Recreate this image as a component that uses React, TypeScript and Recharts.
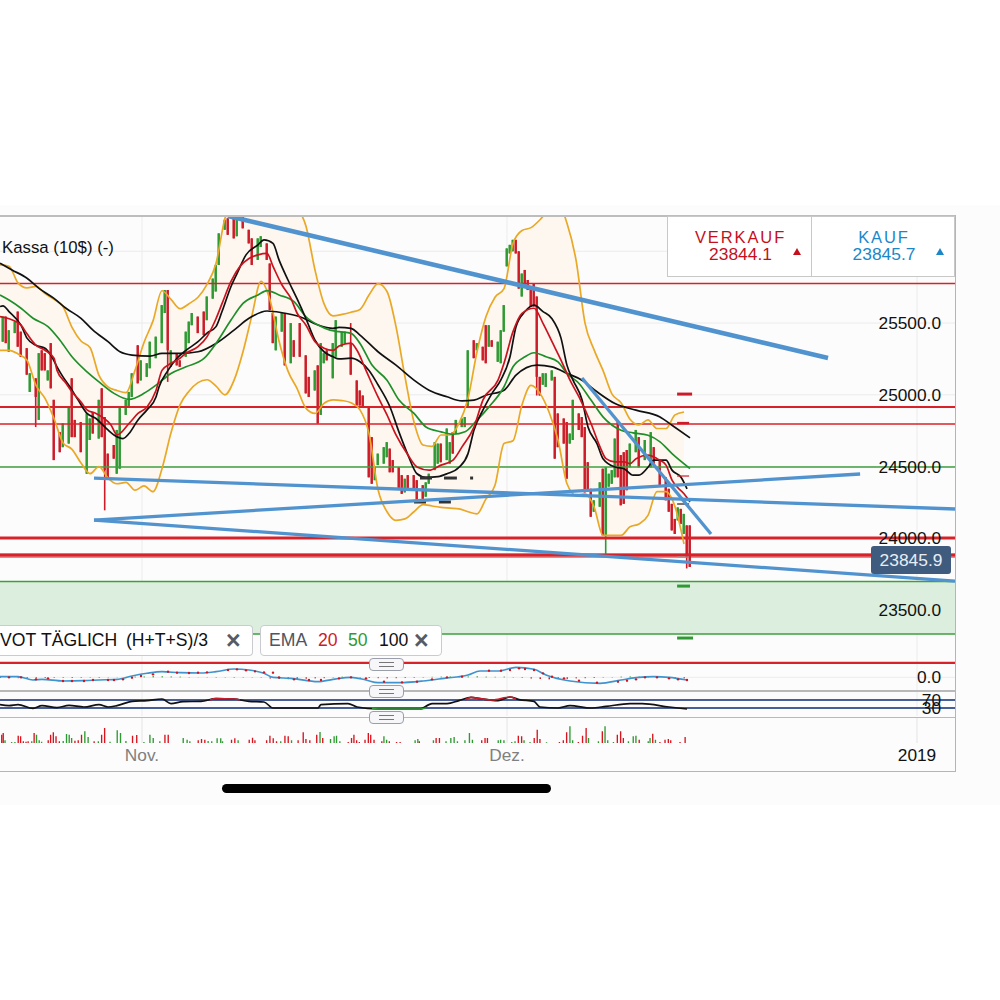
import {
  Area,
  Bar,
  CartesianGrid,
  Cell,
  ComposedChart,
  Line,
  ReferenceArea,
  ReferenceLine,
  XAxis,
  YAxis,
} from 'recharts';

const FONT = '"Liberation Sans", Arial, sans-serif';
const RED = '#cb1c28';
const GREEN = '#2f9a33';
const ORANGE = '#e9a825';
const BLUE = '#5193cf';

// candle numbers run along the x axis, the last visible slot is 318.33
const xDomain = [0, 318.33];
const monthTicks = [47.33, 169, 305.67];
const monthLabels = ['Nov.', 'Dez.', '2019'];
const priceTicks = [23500, 24000, 24500, 25000, 25500];
const priceGrid = [23500, 24000, 24500, 25000, 25500, 26000];

const candleNo = [
  1, 2, 3, 5, 6, 7, 9, 10, 12, 13, 14, 15, 16, 17, 18, 20, 21, 23, 24, 25, 27, 29, 30, 31, 33, 34, 35, 36, 38, 39,
  40, 42, 43, 44, 46, 47, 49, 50, 52, 54, 55, 56, 57, 59, 60, 62, 63, 64, 66, 68, 69, 71, 72, 73, 75, 76, 78, 79, 81, 83,
  84, 86, 87, 89, 90, 91, 92, 94, 95, 97, 98, 100, 102, 103, 105, 106, 107, 108, 109, 111, 112, 114, 115, 117, 119, 120, 121, 123, 124, 125,
  126, 128, 129, 130, 131, 133, 134, 135, 136, 138, 139, 141, 142, 143, 145, 146, 147, 149, 150, 151, 152, 154, 155, 156, 158, 159, 161, 162, 163, 164,
  166, 167, 168, 169, 170, 171, 172, 173, 174, 175, 176, 177, 178, 179, 180, 181, 182, 184, 185, 186, 188, 189, 190, 191, 193, 194, 195, 196, 197, 198,
  200, 201, 202, 203, 204, 205, 206, 207, 208, 209, 210, 212, 213, 215, 217, 218, 220, 222, 223, 224, 225, 226, 227, 228, 229, 230,
];
const bodyHigh = [
  25545, 25545, 25450, 25510, 25580, 25440, 25325, 25150, 25115, 25290, 25310, 25290, 25170, 25360, 24965, 24740, 24800, 24915, 25115, 24825, 24810, 24870, 24835, 24880, 24965, 25045, 24845, 24590, 24650, 24755,
  24915, 24965, 25020, 25150, 25345, 25240, 25220, 25370, 25405, 25625, 25730, 25730, 25310, 25290, 25240, 25440, 25510, 25570, 25545, 25580, 25685, 25810, 25905, 26125, 26220, 26230, 26245, 26245, 26245, 26150,
  26090, 26090, 26105, 26055, 25915, 25570, 25545, 25570, 25570, 25500, 25380, 25500, 25275, 25125, 25170, 25205, 25360, 25290, 25310, 25360, 25520, 25440, 25440, 25360, 25100, 25030, 24995, 24915, 24705, 24495,
  24590, 24635, 24670, 24625, 24545, 24495, 24440, 24415, 24440, 24440, 24405, 24370, 24390, 24450, 24670, 24660, 24660, 24765, 24670, 24740, 24825, 24835, 24845, 25310, 25380, 25360, 25335, 25485, 25485, 25380,
  25370, 25450, 25625, 26020, 26045, 26080, 26080, 26000, 25845, 25870, 25800, 25755, 25775, 25685, 25125, 25150, 25150, 25170, 25125, 24870, 24835, 24810, 24730, 24965, 24870, 24845, 24775, 24530, 24345, 24265,
  24390, 24485, 24495, 24450, 24475, 24695, 24810, 24580, 24600, 24615, 24660, 24755, 24705, 24685, 24740, 24635, 24545, 24425, 24345, 24240, 24135, 24215, 24205, 24170, 24090, 24090,
];
const bodyLow = [
  25370, 25360, 25300, 25430, 25335, 25265, 25140, 25020, 24985, 24825, 25170, 25170, 25100, 25045, 24545, 24600, 24635, 24660, 24705, 24705, 24600, 24450, 24685, 24730, 24695, 24705, 24475, 24425, 24555, 24450,
  24485, 24860, 24915, 24985, 25080, 25100, 25125, 25185, 25255, 25360, 25570, 25310, 25195, 25205, 25195, 25265, 25360, 25485, 25430, 25415, 25520, 25670, 25720, 25905, 26150, 26115, 26090, 26105, 26160, 26055,
  25905, 25940, 26030, 25940, 25590, 25360, 25310, 25440, 25205, 25220, 25265, 25265, 25010, 24985, 25030, 24800, 24860, 25220, 25240, 25115, 25265, 25335, 25360, 25140, 24925, 24925, 24915, 24425, 24380, 24405,
  24510, 24520, 24565, 24460, 24460, 24345, 24310, 24320, 24335, 24345, 24265, 24275, 24290, 24380, 24475, 24520, 24530, 24545, 24520, 24590, 24730, 24775, 24775, 24915, 25255, 25310, 25240, 25220, 25335, 25335,
  25230, 25220, 25440, 25895, 25985, 26000, 25985, 25740, 25685, 25765, 25730, 25615, 25615, 25125, 24995, 25070, 25055, 25100, 24555, 24635, 24660, 24415, 24660, 24685, 24755, 24705, 24320, 24335, 24150, 24185,
  24220, 24020, 24020, 24360, 24380, 24425, 24425, 24230, 24240, 24335, 24495, 24600, 24495, 24545, 24495, 24520, 24370, 24265, 24185, 24055, 24030, 24125, 24100, 24030, 23870, 23800,
];
const candleSide = (
  'GRGGRRRGRGRRGRRRGGRRRGGRGRRRRG' +
  'GGGGRGGGGGGRGRRGGGRRGGGGGRRGRR' +
  'RGGRRRGGRGRRRRGRGGRGGGGRRRRRRG' +
  'GGGRRRRGRRRRGGGGRGGRGGGGRGRRGR' +
  'GGGGGGRRGRRRRRRGGGRRRRGGRRRRRG' +
  'GRGGGGRRRRGGRGGRRRRRRGRGRR'
).split('');

const wickNo = [12, 35, 56, 117, 179, 202, 229];
const wickHigh = [25115, 24845, 25730, 25500, 25685, 24495, 24090];
const wickLow = [24775, 24195, 25090, 25140, 24995, 23890, 23790];

const bandNo = [
  0, 3, 6, 9, 12, 15, 18, 21, 24, 27, 30, 33, 36, 39, 42, 45, 48, 51, 54, 57, 60, 63, 66, 69, 72, 75, 78, 81, 84, 87,
  90, 93, 96, 99, 102, 105, 108, 111, 114, 117, 120, 123, 126, 129, 132, 135, 138, 141, 144, 147, 150, 153, 156, 159, 162, 165, 168, 171, 174, 177,
  180, 183, 186, 189, 192, 195, 198, 201, 204, 207, 210, 213, 216, 219, 222, 225, 228,
];
const bandUpper = [
  25905, 25895, 25780, 25745, 25755, 25705, 25665, 25615, 25470, 25375, 25330, 25135, 25055, 25030, 25015, 25170, 25365, 25515, 25725, 25665,
  25600, 25635, 25680, 25770, 25915, 26230, 26335, 26405, 26450, 26475, 26485, 26475, 26405, 26310, 26175, 25870, 25635, 25550, 25560, 25575,
  25595, 25695, 25775, 25720, 25475, 25125, 24810, 24650, 24640, 24720, 24720, 24800, 24975, 25300, 25545, 25680, 25740, 26055, 26145, 26165,
  26220, 26290, 26335, 26195, 25940, 25500, 25315, 25170, 25005, 24945, 24830, 24790, 24825, 24765, 24765, 24860, 24880,
];
const bandLower = [
  25310, 25310, 25285, 25240, 25065, 24975, 24835, 24665, 24620, 24525, 24450, 24500, 24420, 24380, 24390, 24335, 24365, 24325, 24485, 24735,
  24930, 25025, 25085, 25105, 25060, 25000, 25100, 25300, 25555, 25790, 25660, 25375, 25165, 25045, 24905, 24870, 24940, 24965, 24960, 24945,
  24895, 24730, 24340, 24185, 24125, 24135, 24185, 24235, 24225, 24215, 24210, 24205, 24185, 24170, 24275, 24370, 24660, 24680, 24930, 25065,
  25010, 24880, 24685, 24380, 24300, 24310, 24220, 24020, 24020, 24020, 24080, 24100, 24160, 24325, 24325, 24220, 23960,
];

const ema20No = [
  0, 3, 7, 9, 12, 15, 18, 19, 22, 24, 27, 29, 32, 34, 37, 39, 43, 46, 49, 52, 54, 57, 60, 62, 66, 69, 72, 74, 77, 80,
  83, 86, 89, 91, 94, 97, 99, 102, 105, 108, 111, 113, 117, 119, 122, 126, 129, 132, 136, 139, 143, 147, 151, 154, 158, 161, 166, 168, 171, 174,
  178, 181, 184, 187, 190, 193, 197, 200, 202, 205, 208, 210, 212, 216, 219, 222, 224, 228, 230,
];
const ema20 = [
  25545, 25530, 25485, 25425, 25345, 25310, 25255, 25170, 25080, 25020, 24950, 24895, 24870, 24845, 24790, 24720, 24800, 24870, 24915, 25030,
  25170, 25220, 25255, 25290, 25335, 25405, 25530, 25635, 25790, 25895, 25950, 25975, 25985, 25895, 25765, 25670, 25570, 25485, 25370, 25325,
  25310, 25340, 25360, 25310, 25170, 24985, 24860, 24720, 24580, 24497, 24475, 24510, 24545, 24637, 24775, 24965, 25102, 25220, 25440, 25568,
  25603, 25498, 25370, 25242, 25102, 24985, 24800, 24637, 24555, 24532, 24532, 24520, 24555, 24580, 24555, 24510, 24405, 24310, 24253,
];
const emaFastNo = [
  0, 1, 3, 7, 9, 12, 15, 17, 19, 21, 23, 26, 29, 32, 35, 38, 41, 43, 46, 49, 52, 53, 56, 59, 62, 66, 69, 72, 74, 77,
  79, 82, 86, 88, 91, 93, 96, 99, 102, 105, 108, 111, 113, 117, 120, 123, 126, 130, 133, 136, 139, 142, 146, 149, 153, 156, 158, 161, 164, 167,
  170, 172, 175, 178, 181, 184, 187, 189, 191, 194, 196, 199, 201, 205, 208, 211, 213, 216, 218, 222, 224, 227, 229,
];
const emaFast = [
  25615, 25620, 25580, 25485, 25395, 25345, 25325, 25275, 25195, 25125, 25065, 24965, 24870, 24835, 24775, 24720, 24695, 24730, 24825, 24895,
  24985, 25055, 25170, 25255, 25310, 25370, 25430, 25475, 25580, 25755, 25845, 25975, 26045, 26080, 26055, 25940, 25800, 25670, 25530, 25380,
  25300, 25265, 25250, 25255, 25230, 25170, 25070, 24915, 24740, 24580, 24450, 24425, 24430, 24450, 24495, 24590, 24755, 24895, 25010, 25105,
  25265, 25475, 25580, 25625, 25580, 25530, 25395, 25205, 25102, 24965, 24775, 24660, 24555, 24497, 24485, 24440, 24440, 24495, 24545, 24545,
  24475, 24425, 24345,
];
const ema50No = [
  0, 3, 7, 11, 16, 20, 24, 29, 33, 38, 43, 48, 52, 57, 62, 68, 72, 77, 81, 86, 89, 93, 98, 102, 106, 110, 113, 117, 120, 124,
  129, 133, 138, 142, 147, 151, 155, 159, 163, 168, 171, 175, 178, 182, 186, 189, 193, 197, 201, 207, 211, 216, 220, 224, 230,
];
const ema50 = [
  25695, 25660, 25603, 25533, 25475, 25380, 25265, 25160, 25090, 25010, 24968, 25010, 25067, 25149, 25195, 25253, 25358, 25521, 25637, 25696,
  25726, 25696, 25649, 25544, 25486, 25451, 25440, 25428, 25358, 25207, 25102, 24963, 24870, 24776, 24742, 24725, 24742, 24823, 24916, 25056,
  25195, 25265, 25293, 25265, 25230, 25149, 25079, 24963, 24846, 24753, 24735, 24718, 24672, 24590, 24486,
];
const ema100No = [
  0, 4, 9, 13, 18, 22, 27, 31, 36, 40, 44, 50, 54, 60, 66, 72, 78, 83, 89, 94, 100, 106, 111, 113, 117, 120, 126, 132, 138, 143,
  149, 154, 158, 162, 168, 172, 179, 184, 189, 194, 199, 205, 212, 220, 224, 230,
];
const ema100 = [
  25917, 25870, 25812, 25742, 25672, 25603, 25533, 25451, 25370, 25300, 25277, 25270, 25288, 25288, 25300, 25358, 25451, 25533, 25584, 25572,
  25544, 25486, 25463, 25470, 25463, 25416, 25300, 25207, 25102, 25032, 24986, 24958, 24963, 24997, 25032, 25137, 25207, 25195, 25149, 25102,
  25021, 24939, 24893, 24846, 24788, 24700,
];

const levelPrice = [25775, 24915, 24796, 24496, 23699, 23333, 24002, 23883, 23131];
const levelSide = ['R', 'R', 'R', 'G', 'G', 'G', 'R', 'R', 'R'];
const levelWeight = [1.5, 1.8, 1.5, 1.5, 1.5, 1.5, 2.8, 2.6, 2.6];

const trendFromNo = [76, 31.33, 31.33, 31.33, 194];
const trendFromPrice = [26246, 24420, 24127, 24127, 25117];
const trendToNo = [276, 318.33, 286.7, 318.33, 237];
const trendToPrice = [25256, 24204, 24448, 23702, 24030];
const trendWeight = [4.6, 3.3, 3.3, 3.3, 3.3];

const pivotFrom = [225.7, 225.7, 225.7, 225.7, 225.7, 225.7, 225.7, 140, 148, 156.7, 138, 146.3];
const pivotTo = [230.7, 229.7, 229.7, 229.7, 229.7, 230, 231, 144, 152.3, 157.7, 142, 150.3];
const pivotPrice = [25005, 24803, 24434, 24239, 23869, 23667, 23305, 24420, 24420, 24420, 24253, 24253];
const pivotColor = [RED, RED, RED, '#222', '#999', GREEN, GREEN, '#333', '#333', '#333', '#333', '#333'];
const pivotWeight = [3, 2.4, 1.2, 1.2, 1.2, 3, 3, 3, 3, 3, 3, 3];

const macdNo = [
  0, 6, 11, 14, 21, 28, 33, 39, 44, 49, 54, 60, 67, 72, 78, 83, 88, 91, 97, 106, 111, 117, 122, 126, 133, 141, 148, 156, 160, 166,
  172, 178, 182, 190, 200, 207, 212, 218, 223, 229,
];
const macdLine = [
  8, 8, -32, -24, -44, -40, -32, -24, 16, 48, 68, 56, 52, 68, 100, 88, 48, 0, -12, -52, -24, 0, -32, -64, -64, -44, -12, 28, 76, 76,
  120, 96, 28, -44, -72, -32, -4, 8, 0, -32,
];
const signalNo = [
  3, 7, 12, 16, 21, 24, 28, 31, 36, 38, 41, 44, 47, 51, 56, 59, 63, 66, 69, 76, 79, 82, 85, 88, 91, 93, 98, 103, 107, 113,
  117, 122, 128, 134, 139, 144, 149, 154, 163, 167, 170, 173, 175, 178, 181, 184, 188, 193, 199, 206, 209, 212, 215, 219, 223, 226, 229,
];
const signalLine = [
  0, 0, -24, -12, -44, -44, -44, -32, -32, -32, -24, -4, 16, 36, 68, 56, 52, 56, 60, 88, 96, 84, 72, 60, 56, 0, -24, -32, -32, -12,
  0, -12, -52, -60, -52, -24, 0, 8, 80, 80, 88, 108, 100, 88, 48, 8, -12, -40, -64, -52, -40, -24, 0, 0, -12, -24, -32,
];
const histNo = bandNo;
const histValue = [
  -8, -6, -10, -8, -12, -8, -6, -4, -8, -6, -4, -6, -3, -2, 6, 8, 10, 14, 12, 10, 8, 4, 2, -3, -4, -3, -5, -4, -3, -4,
  -14, -20, -22, -18, -16, -12, -10, 4, 8, 6, -4, -8, -10, -12, -10, -8, -6, -4, 6, 8, 10, 8, 10, 12, 8, 6, 8, 4, -6, -14,
  -20, -24, -20, -18, -12, -10, -8, -4, 4, 8, 10, 8, 6, -4, -8, -10, -12,
];

const rsiNo = [
  0, 3, 6, 11, 14, 19, 23, 28, 33, 36, 39, 44, 49, 54, 57, 61, 67, 72, 78, 83, 88, 91, 100, 106, 107, 116, 119, 126, 133, 140,
  144, 149, 153, 157, 160, 166, 170, 173, 178, 180, 186, 190, 197, 202, 210, 214, 223, 229,
];
const rsiLine = [
  47, 42, 47, 28, 42, 32, 43, 35, 47, 35, 42, 63, 67, 75, 52, 62, 63, 77, 75, 63, 60, 30, 30, 30, 47, 52, 35, 25, 25, 25,
  52, 52, 67, 83, 77, 67, 85, 72, 63, 35, 30, 42, 30, 38, 52, 52, 35, 25,
];
const rsiHighNo = [70, 72, 78, 80, 81, 155, 157, 160, 164, 170, 172];
const rsiHigh = [70, 77, 75, 70, null, 70, 83, 77, 70, 85, 74];
const rsiLowNo = [124, 126, 133, 140, 142];
const rsiLow = [30, 25, 25, 25, 30];

const volumeNo = [
  0.6, 1.1, 1.7, 3.9, 5, 6.1, 6.9, 7.8, 8.7, 9.4, 10.6, 11.4, 12.2, 13.1, 13.9, 16.1, 16.9, 17.8, 18.7, 19.8, 21.1, 22.2, 23.1, 23.9, 25, 26.1, 27.2, 28.3, 29.4, 31.4,
  32.8, 33.9, 34.9, 36.7, 39.1, 40.2, 42, 44.2, 45.6, 48, 50, 51.1, 53.3, 55, 56.1, 61.1, 62.4, 63.3, 66.1, 67.2, 68.3, 69.4, 70.6, 72.4, 73.6, 74.2, 77.2, 78.3, 79.4, 83.1,
  84.2, 85, 88.9, 90, 91.1, 92.2, 93.6, 95, 96.1, 97.2, 99.4, 101.1, 102, 103.3, 105.6, 106.7, 107.6, 110.2, 111.4, 112.2, 113.3, 116.1, 117.2, 118, 118.9, 119.8, 121.7, 122.8, 123.6, 124.7,
  127.3, 128, 128.9, 129.8, 132.2, 133.4, 138.4, 139.3, 139.8, 144.5, 145.4, 146.5, 148.7, 150.3, 151.4, 152.5, 155, 156.5, 157.5, 160.6, 161.7, 162.5, 166.1, 166.9, 168, 170.6, 171.7, 172.8, 173.9, 174.7,
  176.7, 178.1, 179.1, 180, 182.2, 186.5, 187.8, 188.9, 190, 190.9, 192.8, 194.2, 195.4, 196.2, 199.5, 200.8, 201.7, 202.6, 204.5, 205.8, 206.9, 207.8, 209.5, 211.1, 212, 213.1, 216.1, 216.7, 217.6, 218.5,
  220, 221.7, 222.8, 223.6, 226.7, 228.4,
];
const volumeValue = [
  250, 300, 80, 30, 30, 220, 200, 50, 40, 50, 50, 300, 250, 80, 40, 80, 250, 320, 200, 50, 60, 270, 250, 150, 70, 80, 250, 350, 180, 50,
  50, 250, 450, 40, 380, 300, 60, 220, 240, 30, 250, 150, 50, 250, 250, 150, 100, 50, 80, 120, 100, 60, 50, 140, 140, 50, 100, 140, 80, 100,
  160, 80, 80, 220, 140, 50, 50, 220, 200, 80, 80, 320, 120, 80, 250, 330, 150, 120, 200, 220, 50, 30, 150, 250, 80, 30, 100, 300, 250, 100,
  50, 200, 100, 50, 30, 30, 80, 120, 50, 80, 150, 150, 50, 150, 180, 50, 80, 300, 100, 80, 150, 150, 80, 100, 80, 30, 50, 220, 200, 80,
  30, 150, 400, 120, 20, 30, 80, 320, 500, 80, 30, 220, 450, 150, 50, 350, 500, 80, 30, 250, 350, 150, 50, 200, 220, 100, 50, 150, 280, 100,
  30, 100, 120, 80, 30, 180,
];
const volumeSide = (
  'RRGGGRRRRRGRGGGRRRRRGGGGRRRGGR' +
  'GRRGGGGRRGGGGRRGGGRRRGGGGGRRGR' +
  'RRRRRRGRRGRRRRRGRGGGGRRRRRRRRR' +
  'RGGRRRGGRGRRGGGGGGGRRRGGGGGRRG' +
  'GRRRGRRRGGRRRGGRGGGRRRGGGRGGRG' +
  'RRRRRR'
).split('');

const wickTop = new Map(wickNo.map((no, i) => [no, wickHigh[i]]));
const wickBottom = new Map(wickNo.map((no, i) => [no, wickLow[i]]));

const candleRows = candleNo.map((no, i) => ({
  no,
  range: [wickBottom.get(no) ?? bodyLow[i], wickTop.get(no) ?? bodyHigh[i]],
  bodyHigh: bodyHigh[i],
  bodyLow: bodyLow[i],
  side: candleSide[i],
}));
const series = (nos: number[], values: (number | null)[]) => nos.map((no, i) => ({ no, v: values[i] }));
const bandRows = bandNo.map((no, i) => ({ no, band: [bandLower[i], bandUpper[i]], up: bandUpper[i], lo: bandLower[i] }));
const histRows = series(histNo, histValue);
const volumeRows = series(volumeNo, volumeValue);

const CandleShape = ({ x, y, width, height, payload }: any) => {
  const [low, high] = payload.range;
  const perUnit = height / (high - low || 1);
  const color = payload.side === 'G' ? GREEN : RED;
  return (
    <g>
      <rect x={x + width / 2 - 0.8} y={y} width={1.6} height={height} fill={color} />
      <rect
        x={x}
        y={y + (high - payload.bodyHigh) * perUnit}
        width={width}
        height={(payload.bodyHigh - payload.bodyLow) * perUnit}
        fill={color}
      />
    </g>
  );
};

const MonthTick = ({ x, y, payload }: any) => {
  const idx = monthTicks.indexOf(payload.value);
  return (
    <text x={x} y={y + 10} textAnchor="middle" fontFamily={FONT} fontSize={17.3} fill={idx === 2 ? '#111' : '#808080'}>
      {monthLabels[idx]}
    </text>
  );
};

const axisTick = { fontFamily: FONT, fontSize: 17.3, fill: '#111' };
const paneStyle = (top: number) => ({ position: 'absolute' as const, left: 0, top });

const PriceChart = () => (
  <div style={paneStyle(216)}>
    <ComposedChart width={955} height={448} data={candleRows} margin={{ top: 0, right: 0, bottom: 0, left: 0 }}>
      <CartesianGrid stroke="#ececec" horizontalValues={priceGrid} verticalValues={monthTicks} />
      <XAxis type="number" dataKey="no" domain={xDomain} hide allowDataOverflow />
      <YAxis
        orientation="right"
        mirror
        domain={[23124, 26246]}
        ticks={priceTicks}
        interval={0}
        allowDataOverflow
        axisLine={false}
        tickLine={false}
        tickSize={0}
        tickMargin={14}
        tick={axisTick}
        tickFormatter={(v: number) => v.toFixed(1)}
      />
      <Area
        data={bandRows}
        dataKey="band"
        type="monotone"
        stroke="none"
        fill="#fdf7f0"
        fillOpacity={1}
        isAnimationActive={false}
      />
      <ReferenceArea y1={23333} y2={23699} fill="#dceedd" fillOpacity={1} stroke="none" />
      <ReferenceArea y1={23862} y2={23897} fill="#e88a8a" fillOpacity={1} stroke="none" />
      {levelPrice.map((price, i) => (
        <ReferenceLine
          key={price}
          y={price}
          stroke={levelSide[i] === 'G' ? '#3f9f3f' : '#d8222a'}
          strokeWidth={levelWeight[i]}
        />
      ))}
      <Bar dataKey="range" barSize={2.4} shape={<CandleShape />} isAnimationActive={false} />
      <Line data={bandRows} dataKey="up" type="monotone" stroke={ORANGE} strokeWidth={1.7} dot={false} isAnimationActive={false} />
      <Line data={bandRows} dataKey="lo" type="monotone" stroke={ORANGE} strokeWidth={1.7} dot={false} isAnimationActive={false} />
      <Line data={series(ema100No, ema100)} dataKey="v" type="monotone" stroke="#111" strokeWidth={1.7} dot={false} isAnimationActive={false} />
      <Line data={series(ema50No, ema50)} dataKey="v" type="monotone" stroke="#1f8f2a" strokeWidth={1.7} dot={false} isAnimationActive={false} />
      <Line data={series(emaFastNo, emaFast)} dataKey="v" type="monotone" stroke="#111" strokeWidth={1.7} dot={false} isAnimationActive={false} />
      <Line data={series(ema20No, ema20)} dataKey="v" type="monotone" stroke="#c9141f" strokeWidth={1.7} dot={false} isAnimationActive={false} />
      {pivotPrice.map((price, i) => (
        <ReferenceLine
          key={`pivot-${i}`}
          segment={[{ x: pivotFrom[i], y: price }, { x: pivotTo[i], y: price }]}
          stroke={pivotColor[i]}
          strokeWidth={pivotWeight[i]}
        />
      ))}
      {trendFromNo.map((no, i) => (
        <ReferenceLine
          key={`trend-${i}`}
          segment={[{ x: no, y: trendFromPrice[i] }, { x: trendToNo[i], y: trendToPrice[i] }]}
          stroke={BLUE}
          strokeWidth={trendWeight[i]}
        />
      ))}
    </ComposedChart>
  </div>
);

const MacdChart = () => (
  <div style={paneStyle(664)}>
    <ComposedChart width={955} height={26} data={histRows} margin={{ top: 0, right: 0, bottom: 0, left: 0 }}>
      <CartesianGrid stroke="#ececec" horizontalValues={[0]} verticalValues={monthTicks} />
      <XAxis type="number" dataKey="no" domain={xDomain} hide allowDataOverflow />
      <YAxis
        orientation="right"
        mirror
        domain={[-152, 160]}
        ticks={[0]}
        interval={0}
        axisLine={false}
        tickLine={false}
        tickSize={0}
        tickMargin={14}
        tick={axisTick}
        tickFormatter={(v: number) => v.toFixed(1)}
      />
      <Bar dataKey="v" barSize={1.5} isAnimationActive={false}>
        {histValue.map((v, i) => (
          <Cell key={i} fill={v < 0 ? RED : GREEN} />
        ))}
      </Bar>
      <Line data={series(macdNo, macdLine)} dataKey="v" type="monotone" stroke="#3f94cf" strokeWidth={1.6} dot={false} isAnimationActive={false} />
      <Line
        data={series(signalNo, signalLine)}
        dataKey="v"
        stroke="none"
        dot={{ r: 1.2, fill: '#d3131f', stroke: 'none' }}
        isAnimationActive={false}
      />
    </ComposedChart>
  </div>
);

// the 70 and 30 labels are taller than this pane, the margins keep them inside the svg
const RsiChart = () => (
  <div style={paneStyle(684)}>
    <ComposedChart width={955} height={40} data={series(rsiNo, rsiLine)} margin={{ top: 8, right: 0, bottom: 8, left: 0 }}>
      <CartesianGrid horizontal={false} stroke="#ececec" verticalValues={monthTicks} />
      <XAxis type="number" dataKey="no" domain={xDomain} hide allowDataOverflow />
      <YAxis
        orientation="right"
        mirror
        domain={[-10, 110]}
        ticks={[70, 30]}
        interval={0}
        axisLine={false}
        tickLine={false}
        tickSize={0}
        tickMargin={14}
        tick={axisTick}
      />
      <ReferenceLine y={70} stroke="#0d2a75" strokeWidth={1.5} />
      <ReferenceLine y={30} stroke="#0d2a75" strokeWidth={1.5} />
      <Line dataKey="v" type="monotone" stroke="#111" strokeWidth={1.7} dot={false} isAnimationActive={false} />
      <Line data={series(rsiHighNo, rsiHigh)} dataKey="v" type="monotone" stroke={RED} strokeWidth={1.7} dot={false} isAnimationActive={false} />
      <Line data={series(rsiLowNo, rsiLow)} dataKey="v" type="monotone" stroke={GREEN} strokeWidth={1.7} dot={false} isAnimationActive={false} />
    </ComposedChart>
  </div>
);

const VolumeChart = () => (
  <div style={paneStyle(718)}>
    <ComposedChart width={955} height={54} data={volumeRows} margin={{ top: 0, right: 0, bottom: 0, left: 0 }}>
      <CartesianGrid horizontal={false} stroke="#e4e4e4" verticalValues={monthTicks} />
      <XAxis
        type="number"
        dataKey="no"
        domain={xDomain}
        ticks={monthTicks}
        interval={0}
        height={29}
        axisLine={false}
        tickLine={false}
        tick={<MonthTick />}
        allowDataOverflow
      />
      <YAxis hide domain={[0, 750]} />
      <Bar dataKey="v" barSize={2.6} isAnimationActive={false}>
        {volumeValue.map((_, i) => (
          <Cell key={i} fill={volumeSide[i] === 'G' ? GREEN : '#d8141f'} />
        ))}
      </Bar>
    </ComposedChart>
  </div>
);

const box = (left: number, top: number, width: number, height: number, extra = {}) => ({
  position: 'absolute' as const,
  left,
  top,
  width,
  height,
  boxSizing: 'border-box' as const,
  ...extra,
});

const Handle = ({ top }: { top: number }) => (
  <div style={box(369, top, 35, 13, { background: '#f7f7f9', border: '1.5px solid #9a9ea8', borderRadius: 4 })}>
    <div style={box(9, 3, 15, 1.2, { background: '#777' })} />
    <div style={box(9, 6.5, 15, 1.2, { background: '#777' })} />
  </div>
);

const PriceBox = ({ left, width, color, title, price, arrow }: any) => (
  <div style={box(left, 216, width, 61, { background: '#fff', border: '1.5px solid #c8c8c8', color, textAlign: 'center' })}>
    <div style={{ position: 'absolute', top: 11, left: 0, width, fontSize: 16.5, lineHeight: '18px', letterSpacing: 1.9 }}>{title}</div>
    <div style={{ position: 'absolute', top: 27, left: 0, width, fontSize: 17.4, lineHeight: '20px' }}>{price}</div>
    <div
      style={box(arrow, 31, 0, 0, {
        borderLeft: '4px solid transparent',
        borderRight: '4px solid transparent',
        borderBottom: `7px solid ${color}`,
      })}
    />
  </div>
);

const closeMark = { position: 'absolute' as const, color: '#565b66', fontSize: 25, fontWeight: 700, top: 0, lineHeight: '28px' };

export default function App() {
  return (
    <div style={box(0, 0, 1000, 1000, { background: '#fff', overflow: 'hidden', fontFamily: FONT })}>
      <div style={box(0, 205, 1000, 600, { background: '#fcfcfc' })} />
      <PriceChart />
      <MacdChart />
      <RsiChart />
      <VolumeChart />

      <div style={box(0, 215, 956, 1.5, { background: '#bdbdbd' })} />
      <div style={box(954.5, 215, 1.5, 557, { background: '#b5b5b5' })} />
      <div style={box(0, 770.5, 956, 1.5, { background: '#b5b5b5' })} />
      <div style={box(0, 690, 955, 1.5, { background: '#b9b9b9' })} />
      <div style={box(0, 716.5, 955, 1.5, { background: '#b9b9b9' })} />

      <div style={{ position: 'absolute', left: 2, top: 238, fontSize: 16.8, color: '#111', whiteSpace: 'nowrap' }}>Kassa (10$) (-)</div>

      <PriceBox left={667} width={145} color="#c5101c" title="VERKAUF" price="23844.1" arrow={125} />
      <PriceBox left={811} width={144} color="#1b87c9" title="KAUF" price="23845.7" arrow={124} />

      <div style={box(-3, 625, 256, 31, { background: '#fff', border: '1.5px solid #c9cbd0', borderLeft: 'none', borderRadius: 4, fontSize: 17.6, color: '#111', lineHeight: '29px', whiteSpace: 'pre' })}>
        <span style={{ position: 'absolute', left: 3 }}>VOT</span>
        <span style={{ position: 'absolute', left: 44 }}>TÄGLICH</span>
        <span style={{ position: 'absolute', left: 129 }}>(H+T+S)/3</span>
        <span style={{ ...closeMark, left: 229 }}>×</span>
      </div>
      <div style={box(260, 625, 182, 31, { background: '#fff', border: '1.5px solid #c9cbd0', borderRadius: 4, fontSize: 17.6, lineHeight: '29px' })}>
        <span style={{ position: 'absolute', left: 8, color: '#50545f' }}>EMA</span>
        <span style={{ position: 'absolute', left: 57, color: RED }}>20</span>
        <span style={{ position: 'absolute', left: 87, color: GREEN }}>50</span>
        <span style={{ position: 'absolute', left: 118, color: '#111' }}>100</span>
        <span style={{ ...closeMark, left: 153 }}>×</span>
      </div>

      <Handle top={658} />
      <Handle top={685} />
      <Handle top={711} />

      <div style={box(871, 546, 80, 28, { background: '#3f5b7e', borderRadius: 3, color: '#e8edf3', fontSize: 17.4, lineHeight: '28px', textAlign: 'center' })}>23845.9</div>
      <div style={box(222, 784, 329, 9, { background: '#000', borderRadius: 5 })} />
    </div>
  );
}
